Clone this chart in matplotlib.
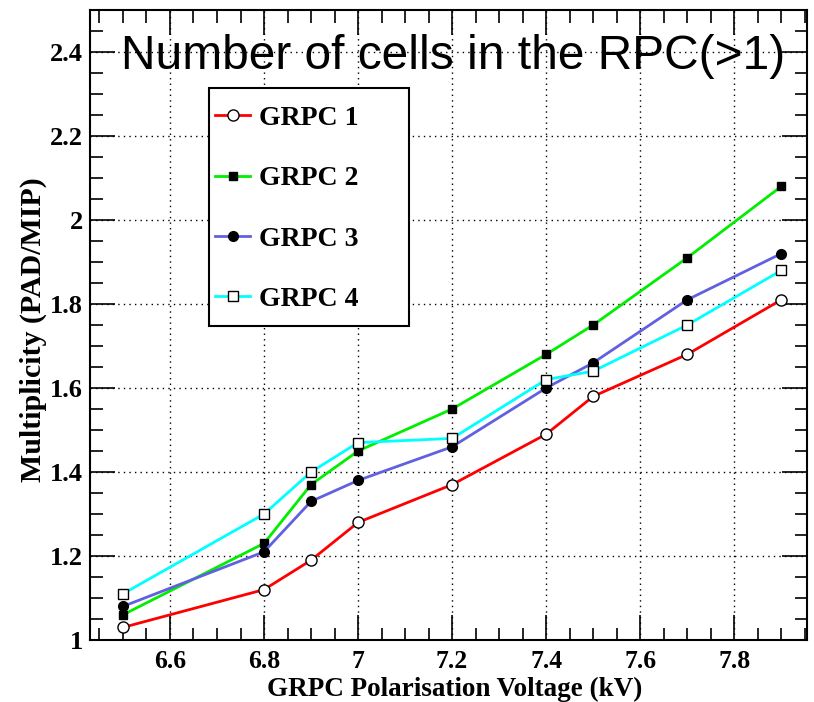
"""Multiplicity vs. GRPC polarisation voltage for four GRPC chambers."""

import matplotlib
matplotlib.use("Agg")
import matplotlib.pyplot as plt
from matplotlib.patches import Rectangle
from matplotlib.ticker import MultipleLocator, FixedLocator, FixedFormatter

voltage = [6.5, 6.8, 6.9, 7.0, 7.2, 7.4, 7.5, 7.7, 7.9]
grpc1 = [1.03, 1.12, 1.19, 1.28, 1.37, 1.49, 1.58, 1.68, 1.81]
grpc2 = [1.06, 1.23, 1.37, 1.45, 1.55, 1.68, 1.75, 1.91, 2.08]
grpc3 = [1.08, 1.21, 1.33, 1.38, 1.46, 1.60, 1.66, 1.81, 1.92]
grpc4 = [1.11, 1.30, 1.40, 1.47, 1.48, 1.62, 1.64, 1.75, 1.88]

labels = ["GRPC 1", "GRPC 2", "GRPC 3", "GRPC 4"]
xticks = [6.6, 6.8, 7.0, 7.2, 7.4, 7.6, 7.8]
xtick_labels = ["6.6", "6.8", "7", "7.2", "7.4", "7.6", "7.8"]
yticks = [1.0, 1.2, 1.4, 1.6, 1.8, 2.0, 2.2, 2.4]
ytick_labels = ["1", "1.2", "1.4", "1.6", "1.8", "2", "2.2", "2.4"]

SERIF = "Liberation Serif"

fig = plt.figure(figsize=(8.14, 7.02), dpi=100)
ax = fig.add_axes([0.1106, 0.0883, 0.881, 0.8975])

styles = [
    dict(color="#ff0000", marker="o", mfc="white", mec="black", ms=8),
    dict(color="#00ee00", marker="s", mfc="black", mec="black", ms=6),
    dict(color="#6060e0", marker="o", mfc="black", mec="black", ms=7),
    dict(color="#00ffff", marker="s", mfc="white", mec="black", ms=7),
]
for ys, lab, st in zip([grpc1, grpc2, grpc3, grpc4], labels, styles):
    ax.plot(voltage, ys, lw=2, mew=1, label=lab, **st)

ax.set_xlim(6.43, 7.955)
ax.set_ylim(1.0, 2.5)

ax.xaxis.set_major_locator(FixedLocator(xticks))
ax.xaxis.set_major_formatter(FixedFormatter(xtick_labels))
ax.xaxis.set_minor_locator(MultipleLocator(0.05))
ax.yaxis.set_major_locator(FixedLocator(yticks))
ax.yaxis.set_major_formatter(FixedFormatter(ytick_labels))
ax.yaxis.set_minor_locator(MultipleLocator(0.05))

ax.tick_params(which="both", direction="in", top=True, right=True, width=1.2, color="black")
ax.tick_params(which="major", length=18)
ax.tick_params(which="minor", length=9)
ax.tick_params(axis="x", which="major", pad=7.5)
ax.tick_params(axis="y", which="major", pad=5)
for lab in ax.get_xticklabels():
    lab.set_fontfamily(SERIF)
    lab.set_fontweight("bold")
    lab.set_fontsize(18.5)
for lab in ax.get_yticklabels():
    lab.set_fontfamily(SERIF)
    lab.set_fontweight("bold")
    lab.set_fontsize(19)

ax.grid(True, which="major", color="black", linestyle=(0, (1, 3)), linewidth=1)
for sp in ax.spines.values():
    sp.set_linewidth(1.5)

ax.set_xlabel("GRPC Polarisation Voltage (kV)", fontfamily=SERIF, fontweight="bold", fontsize=19.5)
ax.set_ylabel("Multiplicity (PAD/MIP)", fontfamily=SERIF, fontweight="bold", fontsize=21.5)
ax.xaxis.set_label_coords(0.508, -0.079)
ax.yaxis.set_label_coords(-0.0795, 0.492)
ax.xaxis.label.set_va("center")
ax.yaxis.label.set_va("center")

ax.text(0.506, 0.907, "Number of cells in the RPC(>1)", transform=ax.transAxes,
        ha="center", va="baseline", fontsize=34.5, fontfamily="Liberation Sans")

# legend frame drawn separately (ROOT TLegend box is wider than its entries)
ax.add_patch(Rectangle((0.166, 0.4984), 0.2789, 0.3776, transform=ax.transAxes,
                       facecolor="white", edgecolor="black", linewidth=1.5, zorder=4))
leg = ax.legend(loc="upper left", bbox_to_anchor=(0.1743, 0.848), borderaxespad=0,
                frameon=False, borderpad=0, labelspacing=1.25, handlelength=1.26,
                handletextpad=0.32, prop=dict(family=SERIF, weight="bold", size=20))
leg.set_zorder(5)

fig.savefig("out.png", dpi=100)
